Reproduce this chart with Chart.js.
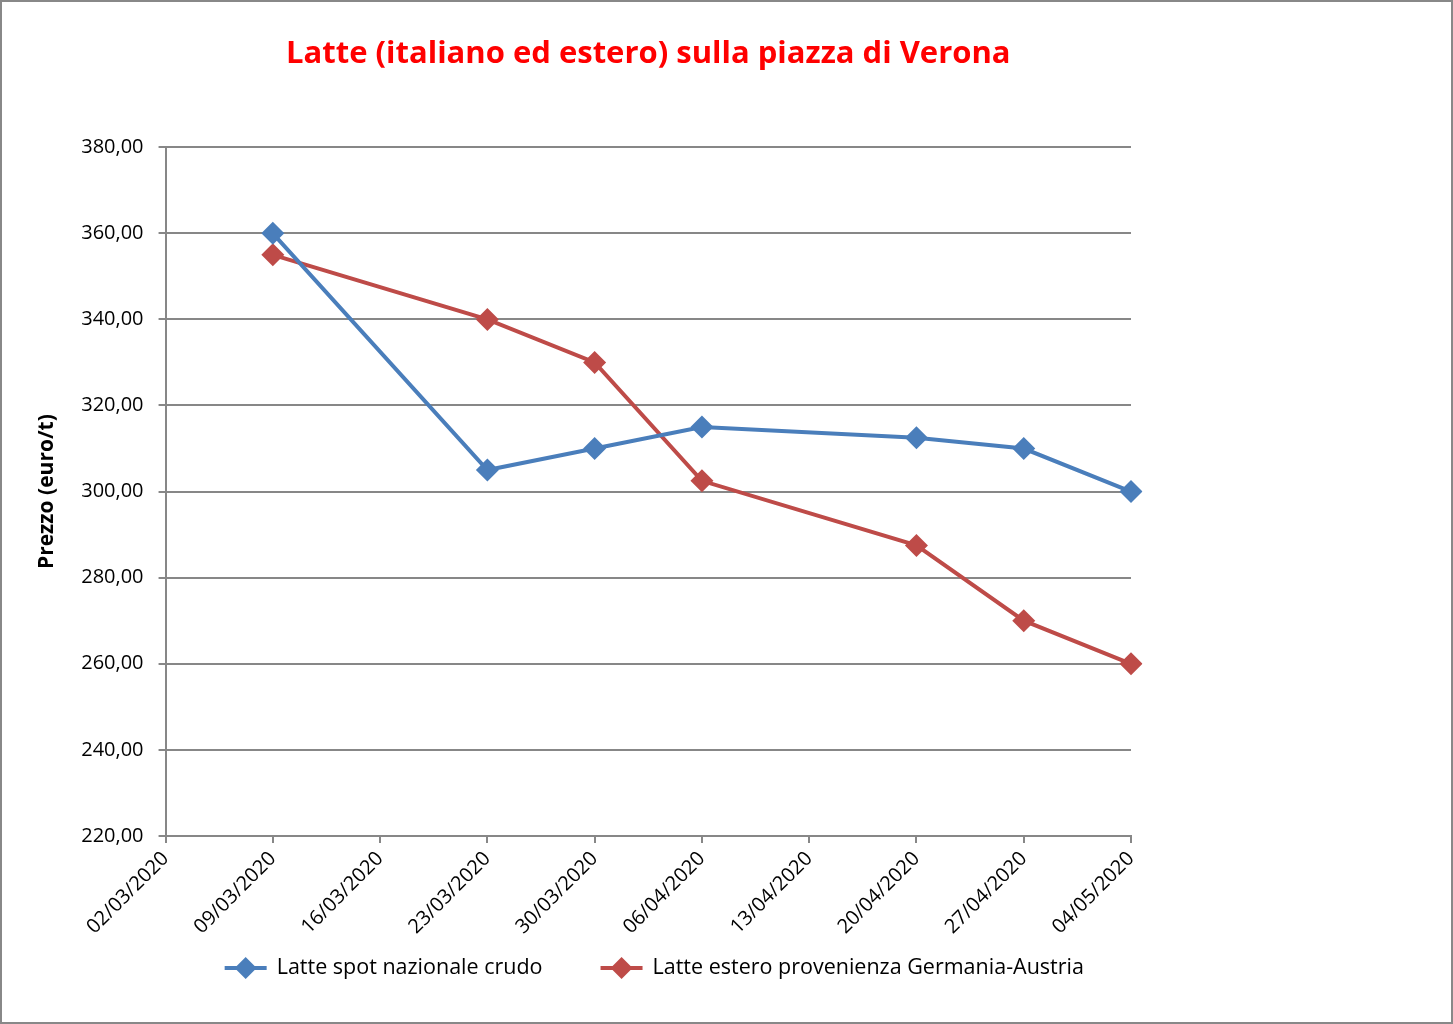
<!DOCTYPE html>
<html lang="it">
<head>
  <meta charset="UTF-8">
  <title>Latte (italiano ed estero) sulla piazza di Verona</title>
  <style>
    html, body { margin: 0; padding: 0; background: #fff; }
    #wrap { width: 1453px; height: 1024px; }
  </style>
</head>
<body>
  <div id="wrap"><canvas id="chart" width="1453" height="1024"></canvas></div>

  <script src="https://cdn.jsdelivr.net/npm/chart.js"></script>
  <script>
    // dati
    const dates = ['02/03/2020','09/03/2020','16/03/2020','23/03/2020','30/03/2020',
                   '06/04/2020','13/04/2020','20/04/2020','27/04/2020','04/05/2020'];
    const latteNazionale = [null, 360, null, 305, 310, 315, null, 312.5, 310, 300];
    const latteEstero    = [null, 355, null, 340, 330, 302.5, null, 287.5, 270, 260];
    const yMin = 220, yMax = 380, yStep = 20;

    const BLUE = '#4a7ebb';
    const RED = '#be4b48';
    const GRID = '#878787';
    const FONT = 'Open Sans';

    // cornice grigia attorno al grafico
    const frame = {
      id: 'frame',
      afterDraw(chart) {
        const ctx = chart.ctx;
        ctx.save();
        ctx.strokeStyle = '#888';
        ctx.lineWidth = 2;
        ctx.strokeRect(1, 1, chart.width - 2, chart.height - 2);
        ctx.restore();
      }
    };

    // legenda in stile Excel: linea + rombo, centrata sotto l'area del grafico
    const excelLegend = {
      id: 'excelLegend',
      afterDraw(chart) {
        const ctx = chart.ctx;
        const area = chart.chartArea;
        const sets = chart.data.datasets;
        const iconW = 42, gapIcon = 10, gapItem = 58;
        ctx.save();
        ctx.font = '21.5px "' + FONT + '"';
        ctx.textBaseline = 'middle';
        const widths = sets.map(ds => iconW + gapIcon + ctx.measureText(ds.label).width);
        const total = widths.reduce((a, b) => a + b, 0) + gapItem * (sets.length - 1);
        let x = (area.left + area.right) / 2 + 6 - total / 2;
        const y = chart.height - 56;
        sets.forEach((ds, i) => {
          ctx.strokeStyle = ds.borderColor;
          ctx.fillStyle = ds.borderColor;
          ctx.lineWidth = 4;
          ctx.beginPath(); ctx.moveTo(x, y); ctx.lineTo(x + iconW, y); ctx.stroke();
          const cx = x + iconW / 2;
          ctx.beginPath();
          ctx.moveTo(cx, y - 11); ctx.lineTo(cx + 11, y); ctx.lineTo(cx, y + 11); ctx.lineTo(cx - 11, y);
          ctx.closePath(); ctx.fill();
          ctx.fillStyle = '#000';
          ctx.fillText(ds.label, x + iconW + gapIcon, y);
          x += widths[i] + gapItem;
        });
        ctx.restore();
      }
    };

    const mkSet = (label, data, color) => ({
      label, data,
      borderColor: color,
      backgroundColor: color,
      borderWidth: 4,
      pointStyle: 'rectRot',
      pointRadius: 11.5,
      pointHoverRadius: 11.5,
      pointBorderWidth: 0,
      spanGaps: true,
      tension: 0
    });

    new Chart(document.getElementById('chart'), {
      type: 'line',
      data: {
        labels: dates,
        datasets: [
          mkSet('Latte spot nazionale crudo', latteNazionale, BLUE),
          mkSet('Latte estero provenienza Germania-Austria', latteEstero, RED)
        ]
      },
      options: {
        responsive: false,
        animation: false,
        layout: { padding: { left: 21, right: 322, top: 18, bottom: 81 } },
        plugins: {
          title: {
            display: true,
            fullSize: false,
            text: 'Latte (italiano ed estero) sulla piazza di Verona',
            color: '#ff0000',
            font: { family: FONT, size: 31, weight: 'bold' },
            padding: { top: 18, bottom: 74 }
          },
          legend: { display: false },
          tooltip: { enabled: false }
        },
        scales: {
          x: {
            offset: false,
            grid: { drawOnChartArea: false, drawTicks: true, tickLength: 7, color: GRID, lineWidth: 2 },
            border: { display: true, color: GRID, width: 2 },
            ticks: {
              color: '#000',
              font: { family: FONT, size: 20 },
              minRotation: 45, maxRotation: 45,
              autoSkip: false,
              padding: 4
            }
          },
          y: {
            min: yMin, max: yMax,
            grid: { color: GRID, lineWidth: 2, tickLength: 7 },
            border: { display: true, color: GRID, width: 2 },
            ticks: {
              stepSize: yStep,
              color: '#000',
              font: { family: FONT, size: 20 },
              padding: 15,
              callback: v => v.toFixed(2).replace('.', ',')
            },
            title: {
              display: true,
              text: 'Prezzo (euro/t)',
              color: '#000',
              font: { family: FONT, size: 21, weight: 'bold' },
              padding: { top: 13, bottom: 7 }
            }
          }
        }
      },
      plugins: [frame, excelLegend]
    });
  </script>
</body>
</html>
